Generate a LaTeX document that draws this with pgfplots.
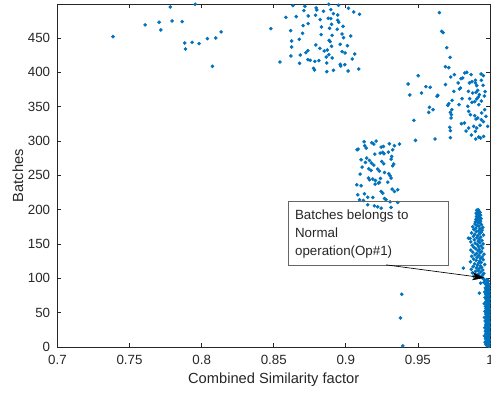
\documentclass[border=0pt]{standalone}
\usepackage{pgfplots}
\pgfplotsset{compat=1.18}
\usepackage{fontspec}
\setmainfont{Liberation Sans}
\usetikzlibrary{arrows.meta}
\definecolor{mblue}{HTML}{0072BD}
\definecolor{axgray}{HTML}{262626}

\begin{document}
\begin{tikzpicture}
\begin{axis}[
  name=ax,
  scale only axis,
  width=324.4pt, height=257pt,
  xmin=0.7, xmax=1, ymin=0, ymax=499,
  xtick={0.7,0.75,0.8,0.85,0.9,0.95,1},
  xticklabels={0.7,0.75,0.8,0.85,0.9,0.95,1},
  ytick={0,50,100,150,200,250,300,350,400,450},
  yticklabels={0,50,100,150,200,250,300,350,400,450},
  tick align=inside,
  major tick length=3pt,
  axis line style={axgray, line width=0.5pt},
  every tick/.style={axgray, line width=0.5pt},
  tick label style={font=\fontsize{10pt}{12pt}\selectfont, text=axgray},
  xticklabel style={yshift=-2.5pt},
  yticklabel style={xshift=-2pt},
  xlabel={Combined Similarity factor},
  ylabel={Batches},
  label style={font=\fontsize{11pt}{13pt}\selectfont, text=axgray},
  x label style={at={(axis description cs:0.5,0)}, anchor=center, yshift=-24.75pt},
  y label style={at={(axis description cs:0,0.5)}, anchor=center, rotate=0, yshift=29.6pt},
  /pgf/number format/assume math mode=true,
  pts/.style={only marks, mark=*, mark size=1.15pt, color=mblue, mark options={draw=none, fill=mblue}},
]

% left cluster (batches ~400-500)
\addplot[pts] table {
0.7385 451.9
0.7608 468.9
0.7705 472.8
0.7717 461.6
0.7782 495.1
0.7795 474.7
0.7865 473.7
0.7883 442.6
0.7888 433.9
0.7934 443.6
0.7955 499.0
0.7982 441.7
0.8040 449.0
0.8075 408.6
0.8098 449.9
0.8135 458.7
};

% middle cluster (batches ~400-500)
\addplot[pts] table {
0.8633 497.1
0.8716 496.1
0.8709 489.8
0.8794 493.7
0.8799 490.7
0.8845 488.8
0.8882 499.0
0.8896 491.2
0.8949 497.5
0.8914 485.4
0.8944 483.4
0.9018 493.2
0.9055 487.8
0.9095 484.4
0.8584 480.0
0.8656 481.0
0.8739 482.0
0.8790 483.0
0.8822 476.6
0.8878 478.6
0.8896 478.1
0.8944 475.7
0.8951 472.8
0.8704 467.9
0.8739 470.8
0.8831 466.0
0.8901 469.8
0.8887 464.0
0.8940 462.6
0.8981 466.9
0.8480 463.5
0.8617 460.6
0.8700 456.7
0.8829 454.8
0.8905 453.8
0.8974 455.7
0.8984 450.4
0.9034 452.8
0.8624 445.5
0.8677 448.0
0.8884 446.5
0.8891 444.6
0.8961 440.7
0.9011 438.7
0.8624 436.8
0.8792 439.7
0.8820 434.9
0.8850 431.0
0.8871 432.4
0.8901 437.8
0.8737 431.5
0.8723 428.5
0.8974 430.0
0.8995 428.1
0.9062 426.6
0.8619 423.7
0.8684 425.1
0.8882 425.6
0.8864 422.2
0.8905 420.8
0.9044 419.3
0.8737 418.3
0.8753 417.4
0.8785 415.9
0.8813 416.9
0.8543 414.9
0.8679 413.0
0.8868 413.5
0.8961 411.5
0.8965 409.1
0.8993 411.0
0.8776 405.7
0.8783 403.3
0.8868 400.8
0.8914 402.8
0.9016 401.8
0.9090 404.7
};

% right cluster (batches ~300-500)
\addplot[pts] table {
0.9649 486.8
0.9665 459.6
0.9675 457.7
0.9700 435.8
0.9723 421.7
0.9502 395.0
0.9691 408.1
0.9714 406.7
0.9728 393.1
0.9753 396.5
0.9799 390.7
0.9811 391.7
0.9825 399.0
0.9839 399.9
0.9869 396.5
0.9938 397.5
0.9954 395.1
0.9899 384.4
0.9691 382.0
0.9779 384.4
0.9795 377.1
0.9788 375.6
0.9857 384.4
0.9875 386.3
0.9899 388.3
0.9908 380.5
0.9940 388.3
0.9952 381.0
0.9966 371.8
0.9850 372.2
0.9880 369.8
0.9749 372.2
0.9915 373.7
0.9926 367.4
0.9961 365.4
0.9903 370.8
0.9633 365.0
0.9638 366.4
0.9525 369.8
0.9444 366.9
0.9432 382.9
0.9555 379.0
0.9585 378.1
0.9859 361.5
0.9875 356.2
0.9894 357.2
0.9908 361.1
0.9919 364.0
0.9940 358.1
0.9922 352.8
0.9707 351.8
0.9714 354.3
0.9737 359.1
0.9785 352.8
0.9806 361.5
0.9846 350.4
0.9735 345.5
0.9580 348.9
0.9605 345.5
0.9575 341.6
0.9725 341.6
0.9732 338.2
0.9730 333.4
0.9852 343.1
0.9864 338.2
0.9894 336.8
0.9903 331.9
0.9915 333.4
0.9942 340.7
0.9963 345.5
0.9972 335.8
0.9940 330.9
0.9822 326.1
0.9472 330.0
0.9802 325.1
0.9721 319.8
0.9725 314.9
0.9834 314.4
0.9852 318.8
0.9887 321.2
0.9908 318.8
0.9931 322.7
0.9954 328.0
0.9984 321.2
0.9899 313.9
0.9871 308.6
0.9922 305.7
0.9935 304.2
0.9956 306.6
0.9901 302.8
0.9483 300.8
0.9619 302.8
0.9725 304.7
};

% cluster batches ~200-300
\addplot[pts] table {
0.9127 298.8
0.9131 293.0
0.9085 288.1
0.9078 287.1
0.9141 289.6
0.9180 297.4
0.9194 295.4
0.9210 299.8
0.9245 291.0
0.9261 292.0
0.9302 295.9
0.9337 293.0
0.9372 295.4
0.9325 287.1
0.9238 282.3
0.9256 283.3
0.9265 281.3
0.9295 283.7
0.9318 277.4
0.9314 273.5
0.9201 280.8
0.9145 275.0
0.9106 272.6
0.9136 268.7
0.9164 271.6
0.9178 267.7
0.9194 264.8
0.9249 270.1
0.9263 266.7
0.9332 266.3
0.9325 263.8
0.9113 261.9
0.9159 259.4
0.9175 257.0
0.9221 259.0
0.9233 256.0
0.9268 254.1
0.9298 252.2
0.9307 249.2
0.9099 251.7
0.9157 245.9
0.9164 243.4
0.9187 244.4
0.9205 242.4
0.9240 245.4
0.9233 239.5
0.9314 245.9
0.9076 236.1
0.9106 234.7
0.9203 237.1
0.9226 238.6
0.9291 240.0
0.9321 229.8
0.9337 226.4
0.9360 228.8
0.9245 226.4
0.9256 224.0
0.9083 221.5
0.9129 223.0
0.9152 218.1
0.9095 214.3
0.9122 213.3
0.9187 217.7
0.9268 216.2
0.9279 214.3
0.9307 211.3
0.9360 210.4
0.9198 205.5
0.9221 204.1
0.9245 202.1
0.9314 203.1
0.9152 207.0
};

% outliers
\addplot[pts] table {
0.9395 1.5
0.9379 42.3
0.9388 76.8
0.9926 78.3
0.9935 92.9
0.9815 114.7
0.9850 158.4
};

% column batches 101-200
\addplot[pts] table {
0.9909 101
0.9929 102
0.9888 103
0.9947 104
0.9902 105
0.9921 106
0.9957 107
0.9878 108
0.9936 109
0.9899 110
0.9917 111
0.9950 112
0.9870 113
0.9925 114
0.9905 115
0.9942 116
0.9883 117
0.9933 118
0.9913 119
0.9963 120
0.9893 121
0.9920 122
0.9939 123
0.9864 124
0.9928 125
0.9904 126
0.9953 127
0.9886 128
0.9934 129
0.9910 130
0.9945 131
0.9873 132
0.9923 133
0.9896 134
0.9958 135
0.9907 136
0.9931 137
0.9881 138
0.9941 139
0.9917 140
0.9867 141
0.9926 142
0.9901 143
0.9949 144
0.9889 145
0.9921 146
0.9937 147
0.9877 148
0.9913 149
0.9952 150
0.9897 151
0.9929 152
0.9867 153
0.9918 154
0.9944 155
0.9891 156
0.9925 157
0.9862 158
0.9909 159
0.9936 160
0.9885 161
0.9915 162
0.9955 163
0.9894 164
0.9928 165
0.9872 166
0.9939 167
0.9905 168
0.9920 169
0.9945 170
0.9888 171
0.9931 172
0.9902 173
0.9950 174
0.9880 175
0.9923 176
0.9910 177
0.9941 178
0.9896 179
0.9933 180
0.9917 181
0.9898 182
0.9934 183
0.9907 184
0.9924 185
0.9903 186
0.9938 187
0.9914 188
0.9927 189
0.9906 190
0.9921 191
0.9935 192
0.9911 193
0.9925 194
0.9904 195
0.9931 196
0.9916 197
0.9922 198
0.9908 199
0.9918 200
};

% column batches 1-100
\addplot[pts] table {
0.9992 1
0.9978 2
0.9986 3
0.9971 4
0.9995 5
0.9983 6
0.9966 7
0.9989 8
0.9976 9
0.9997 10
0.9981 11
0.9969 12
0.9990 13
0.9974 14
0.9985 15
0.9961 16
0.9993 17
0.9979 18
0.9987 19
0.9972 20
0.9996 21
0.9982 22
0.9968 23
0.9988 24
0.9975 25
0.9991 26
0.9980 27
0.9964 28
0.9994 29
0.9977 30
0.9986 31
0.9970 32
0.9989 33
0.9983 34
0.9973 35
0.9998 36
0.9979 37
0.9967 38
0.9990 39
0.9984 40
0.9975 41
0.9992 42
0.9962 43
0.9987 44
0.9978 45
0.9995 46
0.9981 47
0.9971 48
0.9989 49
0.9976 50
0.9993 51
0.9965 52
0.9985 53
0.9979 54
0.9996 55
0.9973 56
0.9988 57
0.9982 58
0.9969 59
0.9991 60
0.9977 61
0.9986 62
0.9960 63
0.9994 64
0.9980 65
0.9972 66
0.9989 67
0.9984 68
0.9974 69
0.9997 70
0.9978 71
0.9966 72
0.9990 73
0.9983 74
0.9975 75
0.9992 76
0.9970 77
0.9987 78
0.9981 79
0.9963 80
0.9995 81
0.9979 82
0.9986 83
0.9973 84
0.9991 85
0.9968 86
0.9984 87
0.9977 88
0.9993 89
0.9980 90
0.9971 91
0.9988 92
0.9975 93
0.9958 94
0.9983 95
0.9990 96
0.9966 97
0.9979 98
0.9955 99
0.9951 100
};

\coordinate (boxtl) at (axis cs:0.860,211.8);
\coordinate (boxbr) at (axis cs:0.971,118.5);
\coordinate (arrA) at (axis cs:0.928,119.5);
\coordinate (arrB) at (axis cs:0.996,100.6);
\end{axis}
% annotation
\draw[black!60, line width=0.6pt] (boxtl) rectangle (boxbr);
\node[anchor=north west, align=left, inner xsep=5pt, inner ysep=6pt,
      font=\fontsize{10pt}{13.7pt}\selectfont, text=axgray]
  at (boxtl) {Batches belongs to\\Normal\\operation(Op\#1)};
\draw[black, line width=0.5pt, -{Stealth[length=9pt, width=6pt, inset=2.5pt]}]
  (arrA) -- (arrB);
\pgfresetboundingbox
\path[use as bounding box] ([xshift=-43.1pt,yshift=-35.25pt]ax.south west) rectangle ([xshift=0.75pt,yshift=3.2pt]ax.north east);
\end{tikzpicture}
\end{document}
